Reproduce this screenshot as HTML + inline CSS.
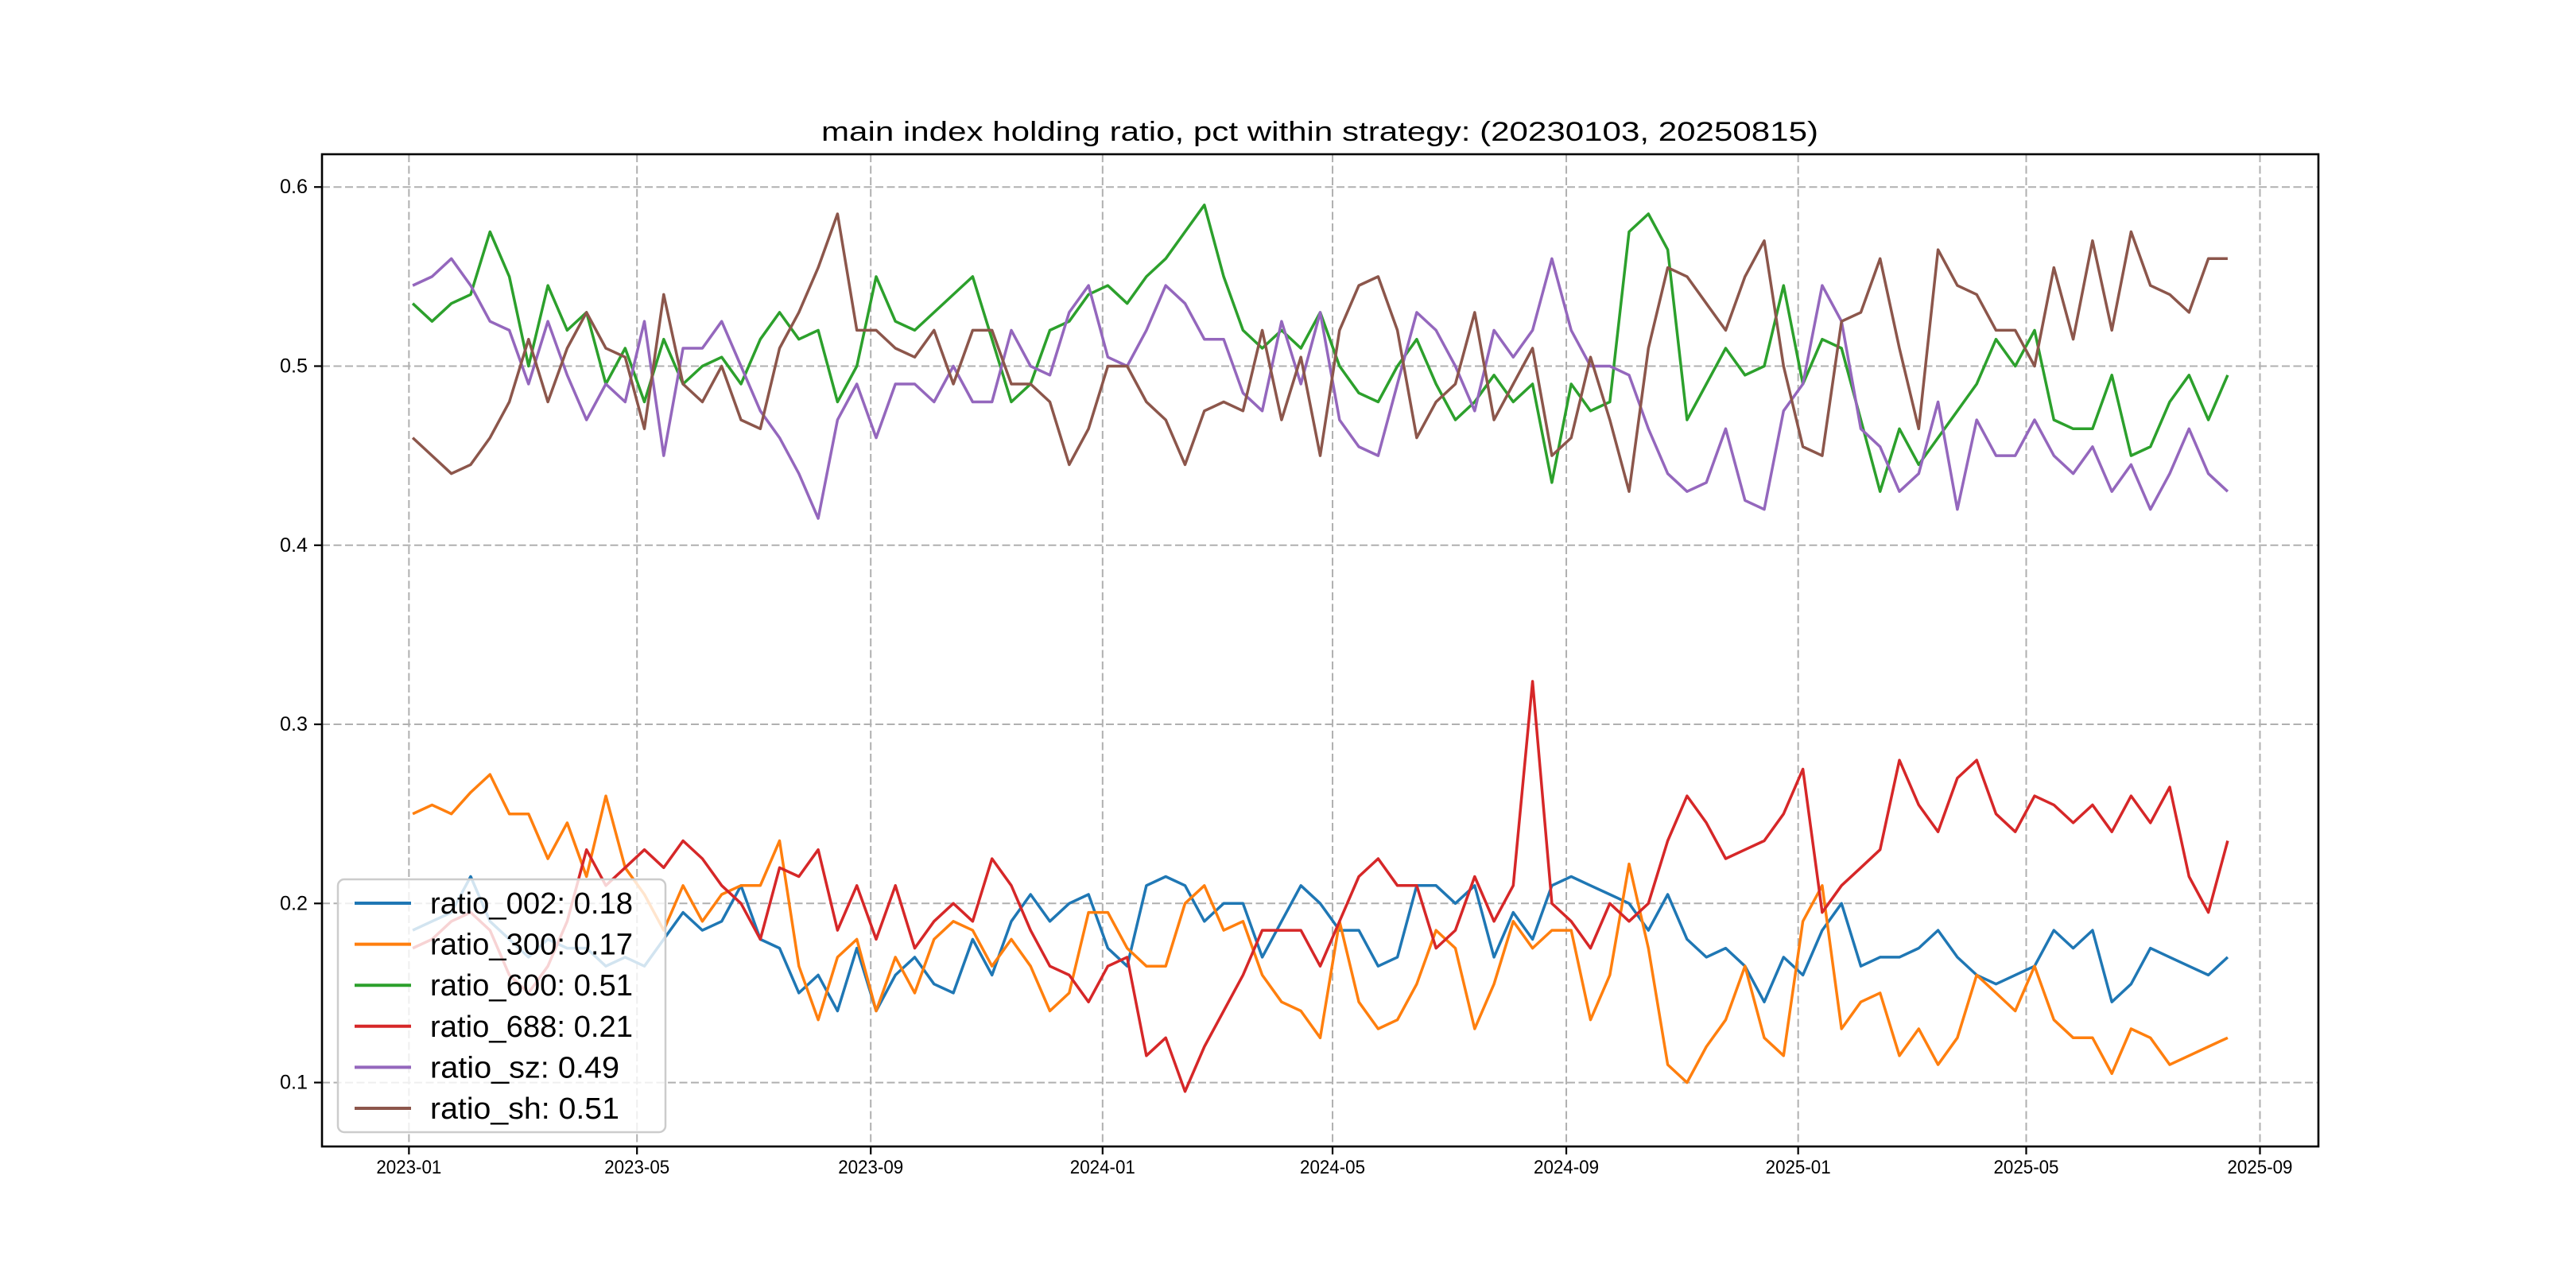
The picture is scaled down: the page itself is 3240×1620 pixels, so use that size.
<!DOCTYPE html>
<html><head><meta charset="utf-8"><title>main index holding ratio</title>
<style>html,body{margin:0;padding:0;background:#fff}svg{display:block}</style></head>
<body>
<svg id="chart" xmlns="http://www.w3.org/2000/svg" width="3240" height="1620" viewBox="0 0 3240 1620">
<rect x="0" y="0" width="3240" height="1620" fill="#fff"/>
<g id="grid"></g>
<g id="series"></g>
<rect x="405" y="194" width="2511" height="1248" fill="none" stroke="#000" stroke-width="2.6"/>
<g id="ticks"></g>
<text x="1660" y="177" text-anchor="middle" font-family="Liberation Sans, sans-serif" font-size="34" textLength="1254" lengthAdjust="spacingAndGlyphs" fill="#000">main index holding ratio, pct within strategy: (20230103, 20250815)</text>
<g id="legend"></g>
</svg>
<script>
const seriesNames = ["ratio_002","ratio_300","ratio_600","ratio_688","ratio_sz","ratio_sh"];
const legendValues = ["0.18","0.17","0.51","0.21","0.49","0.51"];
const yTicks = [0.1,0.2,0.3,0.4,0.5,0.6];
const yTickLabels = ["0.1","0.2","0.3","0.4","0.5","0.6"];
const xTickDates = ["2023-01-01","2023-05-01","2023-09-01","2024-01-01","2024-05-01","2024-09-01","2025-01-01","2025-05-01","2025-09-01"];
const xTickLabels = ["2023-01","2023-05","2023-09","2024-01","2024-05","2024-09","2025-01","2025-05","2025-09"];
const startDate = "2023-01-03";
const endDate = "2025-08-15";
const r002 = [.185,.19,.195,.215,.19,.18,.17,.18,.175,.175,.165,.17,.165,.18,.195,.185,.19,.21,.18,.175,.15,.16,.14,.175,.14,.16,.17,.155,.15,.18,.16,.19,.205,.19,.2,.205,
.175,.165,.21,.215,.21,.19,.2,.2,.17,.19,.21,.2,.185,.185,.165,.17,.21,.21,.2,.21,.17,.195,.18,.21,.215,.21,.205,.2,.185,.205,.18,.17,.175,.165,.145,.17,
.16,.185,.2,.165,.17,.17,.175,.185,.17,.16,.155,.16,.165,.185,.175,.185,.145,.155,.175,.17,.165,.16,.17];
const r300 = [.25,.255,.25,.262,.272,.25,.25,.225,.245,.215,.26,.22,.205,.185,.21,.19,.205,.21,.21,.235,.165,.135,.17,.18,.14,.17,.15,.18,.19,.185,.165,.18,.165,.14,.15,.195,
.195,.175,.165,.165,.2,.21,.185,.19,.16,.145,.14,.125,.19,.145,.13,.135,.155,.185,.175,.13,.155,.19,.175,.185,.185,.135,.16,.222,.175,.11,.10,.12,.135,.165,.125,.115,
.19,.21,.13,.145,.15,.115,.13,.11,.125,.16,.15,.14,.165,.135,.125,.125,.105,.13,.125,.11,.115,.12,.125];
const r600 = [.535,.525,.535,.54,.575,.55,.50,.545,.52,.53,.49,.51,.48,.515,.49,.50,.505,.49,.515,.53,.515,.52,.48,.50,.55,.525,.52,.53,.54,.55,.515,.48,.49,.52,.525,.54,
.545,.535,.55,.56,.575,.59,.55,.52,.51,.52,.51,.53,.50,.485,.48,.50,.515,.49,.47,.48,.495,.48,.49,.435,.49,.475,.48,.575,.585,.565,.47,.49,.51,.495,.50,.545,
.49,.515,.51,.47,.43,.465,.445,.46,.475,.49,.515,.50,.52,.47,.465,.465,.495,.45,.455,.48,.495,.47,.495];
const r688 = [.175,.18,.19,.195,.185,.16,.15,.165,.19,.23,.21,.22,.23,.22,.235,.225,.21,.2,.18,.22,.215,.23,.185,.21,.18,.21,.175,.19,.2,.19,.225,.21,.185,.165,.16,.145,
.165,.17,.115,.125,.095,.12,.14,.16,.185,.185,.185,.165,.19,.215,.225,.21,.21,.175,.185,.215,.19,.21,.324,.2,.19,.175,.2,.19,.2,.235,.26,.245,.225,.23,.235,.25,
.275,.195,.21,.22,.23,.28,.255,.24,.27,.28,.25,.24,.26,.255,.245,.255,.24,.26,.245,.265,.215,.195,.235];
const rsz = [.545,.55,.56,.545,.525,.52,.49,.525,.495,.47,.49,.48,.525,.45,.51,.51,.525,.50,.475,.46,.44,.415,.47,.49,.46,.49,.49,.48,.50,.48,.48,.52,.50,.495,.53,.545,
.505,.50,.52,.545,.535,.515,.515,.485,.475,.525,.49,.53,.47,.455,.45,.49,.53,.52,.50,.475,.52,.505,.52,.56,.52,.50,.50,.495,.465,.44,.43,.435,.465,.425,.42,.475,
.49,.545,.525,.465,.455,.43,.44,.48,.42,.47,.45,.45,.47,.45,.44,.455,.43,.445,.42,.44,.465,.44,.43];
const rsh = [.46,.45,.44,.445,.46,.48,.515,.48,.51,.53,.51,.505,.465,.54,.49,.48,.50,.47,.465,.51,.53,.555,.585,.52,.52,.51,.505,.52,.49,.52,.52,.49,.49,.48,.445,.465,
.50,.50,.48,.47,.445,.475,.48,.475,.52,.47,.505,.45,.52,.545,.55,.52,.46,.48,.49,.53,.47,.49,.51,.45,.46,.505,.47,.43,.51,.555,.55,.535,.52,.55,.57,.50,
.455,.45,.525,.53,.56,.51,.465,.565,.545,.54,.52,.52,.50,.555,.515,.57,.52,.575,.545,.54,.53,.56,.56];
const seriesData = [r002,r300,r600,r688,rsz,rsh];
const colors = ["#1f77b4","#ff7f0e","#2ca02c","#d62728","#9467bd","#8c564b"];

const NS = "http://www.w3.org/2000/svg";
const L = 405, R = 2916, T = 194, B = 1442;
const dayMs = 86400000;
const t0 = Date.parse(startDate), t1 = Date.parse(endDate);
const span = t1 - t0, xmin = t0 - span*0.05, xmax = t1 + span*0.05;
const ymin = 0.0643, ymax = 0.6183;
function xs(t){ return L + (t - xmin)/(xmax - xmin)*(R - L); }
function ys(v){ return B - (v - ymin)/(ymax - ymin)*(B - T); }
function mk(tag, attrs){ const e = document.createElementNS(NS, tag); for (const k in attrs) e.setAttribute(k, attrs[k]); return e; }

const grid = document.getElementById('grid'), ticks = document.getElementById('ticks');
yTicks.forEach((v,i)=>{
  const y = ys(v);
  const g = mk('line',{x1:L,x2:R,y1:y,y2:y,stroke:'#b0b0b0','stroke-width':2,'stroke-dasharray':'10,4.5'});
  
  
  grid.appendChild(g);
  const tk = mk('line',{x1:L-10,x2:L,y1:y,y2:y,stroke:'#000','stroke-width':2.2});
  
  
  ticks.appendChild(tk);
  const tx = mk('text',{x:387,y:y+8,'text-anchor':'end','font-family':'Liberation Sans, sans-serif','font-size':25,textLength:35,lengthAdjust:'spacingAndGlyphs',fill:'#000'});
  tx.textContent = yTickLabels[i];
  
  
  ticks.appendChild(tx);
});
xTickDates.forEach((d,i)=>{
  const x = xs(Date.parse(d));
  const g = mk('line',{x1:x,x2:x,y1:T,y2:B,stroke:'#b0b0b0','stroke-width':2,'stroke-dasharray':'10,4.5'});
  
  
  grid.appendChild(g);
  const tk = mk('line',{x1:x,x2:x,y1:B,y2:B+10,stroke:'#000','stroke-width':2.2});
  
  
  ticks.appendChild(tk);
  const tx = mk('text',{x:x,y:1476,'text-anchor':'middle','font-family':'Liberation Sans, sans-serif','font-size':24,textLength:82,lengthAdjust:'spacingAndGlyphs',fill:'#000'});
  tx.textContent = xTickLabels[i];
  
  
  ticks.appendChild(tx);
});

const sg = document.getElementById('series');
seriesData.forEach((arr,si)=>{
  const n = arr.length;
  const pts = arr.map((v,i)=> xs(t0 + span*i/(n-1)).toFixed(1)+','+ys(v).toFixed(1)).join(' ');
  const pl = mk('polyline',{points:pts,fill:'none',stroke:colors[si],'stroke-width':3.5,'stroke-linejoin':'round'});
  
  
  sg.appendChild(pl);
});

const lg = document.getElementById('legend');
const box = mk('rect',{x:425,y:1106,width:412,height:318,rx:8,fill:'rgba(255,255,255,0.8)',stroke:'#cccccc','stroke-width':2.5});


lg.appendChild(box);
seriesNames.forEach((nm,i)=>{
  const y = 1136 + i*51.6;
  const ln = mk('line',{x1:446,x2:517,y1:y,y2:y,stroke:colors[i],'stroke-width':4});
  
  
  lg.appendChild(ln);
  const label = nm + ': ' + legendValues[i];
  const tx = mk('text',{x:541,y:y+13,'font-family':'Liberation Sans, sans-serif','font-size':38,textLength:label.length*17,lengthAdjust:'spacingAndGlyphs',fill:'#000'});
  tx.textContent = label;
  
  
  lg.appendChild(tx);
});
</script>
</body></html>
